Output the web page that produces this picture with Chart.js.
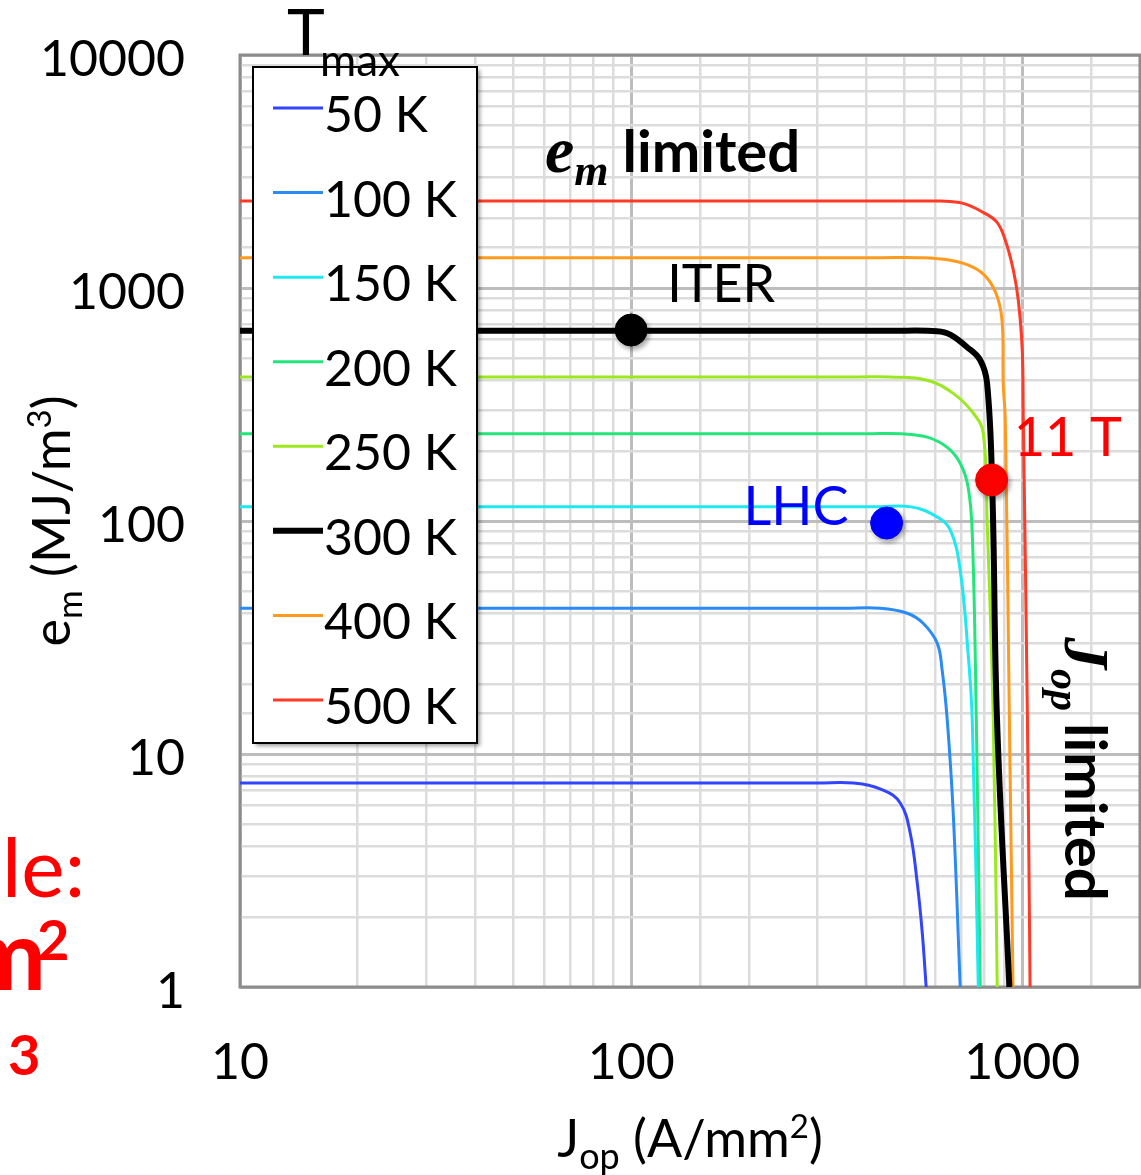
<!DOCTYPE html>
<html>
<head>
<meta charset="utf-8">
<script src="https://cdn.jsdelivr.net/npm/chart.js@4.4.1/dist/chart.umd.min.js"></script>
<style>
  html, body { margin: 0; padding: 0; background: #fff; overflow: hidden; }
  canvas { display: block; }
</style>
</head>
<body>
<canvas id="myChart" width="1141" height="1175"></canvas>
<script>
// Tmax curves: J_op (A/mm2) against e_m (MJ/m3)
const tempLabels = ["50 K", "100 K", "150 K", "200 K", "250 K", "300 K", "400 K", "500 K"];

const jop50  = [10, 100, 300, 370, 441, 488, 517, 539, 555, 568];
const em50   = [7.5, 7.5, 7.5, 7.5, 7.0, 6.15, 4.58, 2.79, 1.71, 1];
const jop100 = [10, 100, 350, 433, 508, 558, 606, 624, 643, 666, 694];
const em100  = [42.2, 42.2, 42.2, 42.2, 40.2, 36.4, 29.9, 22.9, 14.0, 5.58, 1];
const jop150 = [10, 100, 420, 520, 606, 655, 694, 727, 745, 772];
const em150  = [115, 115, 115, 115, 104, 91.3, 61.5, 27.1, 14, 1];
const jop200 = [10, 100, 400, 488, 571, 643, 694, 727, 745, 763, 781];
const em200  = [237, 237, 237, 237, 229, 207, 177, 140, 88.7, 14, 1];
const jop250 = [10, 100, 380, 459, 571, 666, 750, 795, 813, 843, 863];
const em250  = [415, 415, 415, 415, 402, 353, 290, 238, 101, 14, 1];
const jop300 = [10, 100, 470, 571, 643, 723, 781, 813, 838, 862, 927];
const em300  = [655, 655, 655, 655, 640, 557, 490, 390, 140, 14, 1];
const jop400 = [10, 100, 440, 538, 654, 750, 814, 864, 889, 894, 905, 927, 947];
const em400  = [1350, 1350, 1350, 1350, 1315, 1227, 1101, 912, 706, 390, 271, 14, 1];
const jop500 = [10, 100, 500, 617, 706, 794, 862, 905, 949, 977, 1000, 1006, 1031, 1047];
const em500  = [2360, 2360, 2360, 2360, 2307, 2112, 1913, 1602, 1191, 886, 540, 279, 14, 1];

const jopCurves = [jop50, jop100, jop150, jop200, jop250, jop300, jop400, jop500];
const emCurves  = [em50, em100, em150, em200, em250, em300, em400, em500];

// magnet operating points
const pointNames = ["ITER", "LHC", "11 T"];
const pointJop   = [100, 450, 835];
const pointEm    = [660, 98, 150];

const xTickLabels = [10, 100, 1000];
const yTickLabels = [1, 10, 100, 1000, 10000];

// styles
const lineColors = ["#3344ff", "#2a8bf5", "#1ee8f0", "#22e67a", "#9be81e", "#000000", "#ff9a1e", "#ff3a26"];
const lineWidths = [3, 3, 3, 3, 3, 6, 3, 3];
const pointColors = ["#000000", "#0000ff", "#ff0000"];

const LATO = 'Lato, "Open Sans", sans-serif';
const SERIF = '"Liberation Serif", "DejaVu Serif", serif';

const curveSets = tempLabels.map((t, i) => ({
    label: t,
    data: jopCurves[i].map((x, k) => ({ x: x, y: emCurves[i][k] })),
    borderColor: lineColors[i],
    backgroundColor: lineColors[i],
    borderWidth: lineWidths[i],
    pointRadius: 0,
    showLine: true,
    fill: false,
    tension: 0.4,
    order: i == 5 ? 1 : 2,
    isCurve: true
}));

const pointSets = pointNames.map((n, i) => ({
    label: n,
    data: [{ x: pointJop[i], y: pointEm[i] }],
    backgroundColor: pointColors[i],
    borderColor: pointColors[i],
    pointRadius: 16,
    pointHoverRadius: 16,
    showLine: false,
    order: 0,
    isCurve: false
}));

function isDecade(v) {
    const l = Math.log10(v);
    return Math.abs(l - Math.round(l)) < 1e-9;
}

// draws a row of text runs (for sub/superscripts)
function drawRuns(ctx, runs, x, y) {
    ctx.textAlign = "left";
    ctx.textBaseline = "alphabetic";
    runs.forEach(r => {
        ctx.font = r.font;
        ctx.fillStyle = r.color || "#000";
        x += r.dx || 0;
        ctx.fillText(r.text, x, y + (r.dy || 0));
        x += ctx.measureText(r.text).width;
    });
    return x;
}

function runsWidth(ctx, runs) {
    let w = 0;
    runs.forEach(r => {
        ctx.font = r.font;
        w += (r.dx || 0) + ctx.measureText(r.text).width;
    });
    return w;
}

const annotations = {
    id: "annotations",
    beforeDatasetsDraw(chart) {
        const ctx = chart.ctx;
        const a = chart.chartArea;
        ctx.save();
        ctx.strokeStyle = "#8c8c8c";
        ctx.lineWidth = 3;
        ctx.strokeRect(a.left, a.top, a.right - a.left, a.bottom - a.top);
        ctx.restore();
    },
    beforeDatasetDraw(chart, args) {
        chart.ctx.save();
        if (!chart.data.datasets[args.index].isCurve) {
            chart.ctx.shadowColor = "rgba(0,0,0,0.35)";
            chart.ctx.shadowBlur = 5;
            chart.ctx.shadowOffsetX = 2;
            chart.ctx.shadowOffsetY = 3;
        }
    },
    afterDatasetDraw(chart) {
        chart.ctx.restore();
    },
    afterDraw(chart) {
        const ctx = chart.ctx;
        const xs = chart.scales.x, ys = chart.scales.y;
        ctx.save();

        // legend box
        ctx.save();
        ctx.shadowColor = "rgba(0,0,0,0.4)";
        ctx.shadowBlur = 4;
        ctx.shadowOffsetX = 3;
        ctx.shadowOffsetY = 3;
        ctx.fillStyle = "#fff";
        ctx.fillRect(253, 67, 224, 676);
        ctx.restore();
        ctx.strokeStyle = "#000";
        ctx.lineWidth = 2;
        ctx.strokeRect(253, 67, 224, 676);

        const curves = chart.data.datasets.filter(d => d.isCurve);
        curves.forEach((d, i) => {
            const cy = 108 + i * 84.57;
            ctx.strokeStyle = d.borderColor;
            ctx.lineWidth = d.borderWidth;
            ctx.beginPath();
            ctx.moveTo(273, cy);
            ctx.lineTo(323, cy);
            ctx.stroke();
            drawRuns(ctx, [{ text: d.label, font: "50px " + LATO }], 324, cy + 24);
        });

        // legend heading
        drawRuns(ctx, [{ text: "T", font: "64px " + LATO }], 287, 55);
        drawRuns(ctx, [{ text: "max", font: "44px " + LATO }], 320, 76);

        // point labels
        const px = i => xs.getPixelForValue(pointJop[i]);
        const py = i => ys.getPixelForValue(pointEm[i]);
        drawRuns(ctx, [{ text: pointNames[0], font: "52px " + LATO, color: pointColors[0] }], px(0) + 36, py(0) - 28);
        ctx.font = "54px " + LATO;
        const lhcW = ctx.measureText(pointNames[1]).width;
        drawRuns(ctx, [{ text: pointNames[1], font: "54px " + LATO, color: pointColors[1] }], px(1) - 38 - lhcW, py(1) + 2);
        drawRuns(ctx, [{ text: pointNames[2], font: "54px " + LATO, color: pointColors[2] }], px(2) + 22, py(2) - 24);

        // regime labels
        drawRuns(ctx, [
            { text: "e", font: "bold italic 66px " + SERIF },
            { text: "m", font: "bold italic 44px " + SERIF, dy: 13 },
            { text: "limited", font: "bold 58px " + LATO, dx: 14 }
        ], 545, 172);

        ctx.save();
        ctx.translate(1065, 637);
        ctx.rotate(Math.PI / 2);
        drawRuns(ctx, [
            { text: "J", font: "bold italic 64px " + SERIF },
            { text: "op", font: "bold italic 42px " + SERIF, dy: 14 },
            { text: "limited", font: "bold 58px " + LATO, dx: 12 }
        ], 0, 0);
        ctx.restore();

        // axis titles
        const xTitle = [
            { text: "J", font: "52px " + LATO },
            { text: "op", font: "36px " + LATO, dy: 12 },
            { text: " (A/mm", font: "52px " + LATO },
            { text: "2", font: "33px " + LATO, dy: -19 },
            { text: ")", font: "52px " + LATO }
        ];
        const cx = (chart.chartArea.left + chart.chartArea.right) / 2;
        drawRuns(ctx, xTitle, cx - runsWidth(ctx, xTitle) / 2, 1157);

        const yTitle = [
            { text: "e", font: "52px " + LATO },
            { text: "m", font: "35px " + LATO, dy: 12 },
            { text: " (MJ/m", font: "52px " + LATO },
            { text: "3", font: "33px " + LATO, dy: -19 },
            { text: ")", font: "52px " + LATO }
        ];
        const cyMid = (chart.chartArea.top + chart.chartArea.bottom) / 2;
        ctx.save();
        ctx.translate(70, cyMid);
        ctx.rotate(-Math.PI / 2);
        drawRuns(ctx, yTitle, -runsWidth(ctx, yTitle) / 2, 0);
        ctx.restore();

        // slide text running in from the left edge
        const red = "#ff0000";
        drawRuns(ctx, [{ text: "le:", font: "82px " + LATO, color: red }], 2, 897);
        ctx.font = "bold 98px " + LATO;
        const mW = ctx.measureText("m").width;
        drawRuns(ctx, [{ text: "m", font: "bold 98px " + LATO, color: red }], 46 - mW, 990);
        drawRuns(ctx, [{ text: "2", font: "bold 56px " + LATO, color: red }], 37, 960);
        drawRuns(ctx, [{ text: "m", font: "bold 98px " + LATO, color: red }], 4 - mW, 1103);
        drawRuns(ctx, [{ text: "3", font: "bold 56px " + LATO, color: red }], 8, 1075);

        ctx.restore();
    }
};

const gridStyle = {
    color: c => (c.tick && isDecade(c.tick.value)) ? "#bdbdbd" : "#dcdcdc",
    lineWidth: c => (c.tick && isDecade(c.tick.value)) ? 3 : 2.5,
    drawTicks: false
};

const myChart = document.getElementById("myChart").getContext("2d");

const chartConfig = {
    type: "scatter",
    data: { datasets: pointSets.concat(curveSets) },
    options: {
        responsive: false,
        animation: false,
        devicePixelRatio: 1,
        layout: { autoPadding: false, padding: { top: 55, right: 1, left: 0, bottom: 0 } },
        plugins: {
            legend: { display: false },
            tooltip: { enabled: false }
        },
        scales: {
            x: {
                type: "logarithmic",
                min: 10,
                max: 2000,
                grid: gridStyle,
                border: { display: false },
                // keep the plot frame fixed, labels may hang over the edges
                afterFit: s => {
                    s.height = 188;
                    s.paddingLeft = 0;
                    s.paddingRight = 0;
                },
                ticks: {
                    autoSkip: false,
                    maxRotation: 0,
                    padding: 46,
                    color: "#000",
                    font: { family: LATO, size: 50 },
                    callback: v => xTickLabels.includes(v) ? String(v) : ""
                }
            },
            y: {
                type: "logarithmic",
                min: 1,
                max: 10000,
                grid: gridStyle,
                border: { display: false },
                afterFit: s => {
                    s.width = 240;
                    s.paddingTop = 0;
                    s.paddingBottom = 0;
                },
                ticks: {
                    autoSkip: false,
                    padding: 55,
                    labelOffset: 5,
                    color: "#000",
                    font: { family: LATO, size: 50 },
                    callback: v => yTickLabels.includes(v) ? String(v) : ""
                }
            }
        }
    },
    plugins: [annotations]
};

const emChart = new Chart(myChart, chartConfig);
</script>
</body>
</html>
